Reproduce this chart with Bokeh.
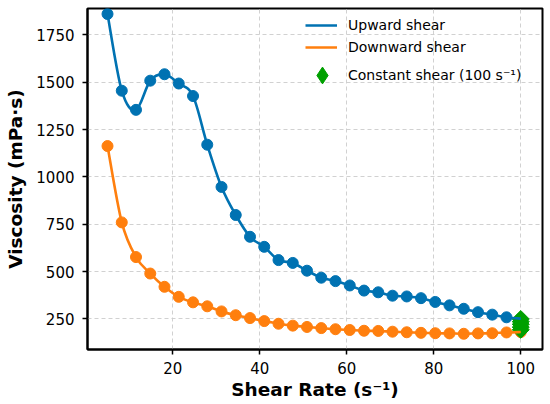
import numpy as np
from bokeh.plotting import figure
from bokeh.models import ColumnDataSource, Legend, LegendItem, FixedTicker, Range1d
from bokeh.embed import file_html
from bokeh.resources import INLINE

shear_rate = [5.0, 8.28, 11.55, 14.83, 18.10, 21.38, 24.66, 27.93, 31.21, 34.48,
              37.76, 41.03, 44.31, 47.59, 50.86, 54.14, 57.41, 60.69, 63.97, 67.24,
              70.52, 73.79, 77.07, 80.34, 83.62, 86.90, 90.17, 93.45, 96.72, 100.0]
upward = [1860, 1455, 1354, 1508, 1542, 1493, 1427, 1170, 947, 799,
          684, 631, 561, 546, 505, 468, 450, 427, 400, 391,
          373, 369, 360, 340, 322, 304, 286, 273, 259, 252]
downward = [1163, 760, 577, 490, 420, 367, 338, 317, 290, 270,
            255, 239, 225, 215, 208, 202, 196, 192, 188, 187,
            183, 180, 177, 175, 174, 172, 174, 175, 179, 181]
const_rate = [100, 100, 100, 100, 100]
const_visc = [250, 236, 222, 207, 193]

x_ticks = [20, 40, 60, 80, 100]
y_ticks = [250, 500, 750, 1000, 1250, 1500, 1750]

BLUE = "#0072B2"
ORANGE = "#FF7F0E"
GREEN = "#00A000"
FONT = "DejaVu Sans"

up_src = ColumnDataSource(dict(x=shear_rate, y=upward))
down_src = ColumnDataSource(dict(x=shear_rate, y=downward))
const_src = ColumnDataSource(dict(x=const_rate, y=const_visc))


def bezier_source(xs, ys):
    """Smooth (Catmull-Rom style) Bezier segments passing through every data point."""
    x = np.asarray(xs, float)
    y = np.asarray(ys, float)
    xp = np.concatenate([[x[0]], x, [x[-1]]])
    yp = np.concatenate([[y[0]], y, [y[-1]]])
    n = len(x)
    i = np.arange(n - 1)
    return ColumnDataSource(dict(
        x0=x[:-1], y0=y[:-1], x1=x[1:], y1=y[1:],
        cx0=x[i] + (xp[i + 2] - xp[i]) / 6.0,
        cy0=y[i] + (yp[i + 2] - yp[i]) / 6.0,
        cx1=x[i + 1] - (xp[i + 3] - xp[i + 1]) / 6.0,
        cy1=y[i + 1] - (yp[i + 3] - yp[i + 1]) / 6.0,
    ))


p = figure(width=550, height=404, output_backend="svg", toolbar_location=None,
           x_range=Range1d(0.4, 105.0), y_range=Range1d(89, 1889),
           min_border_left=87, min_border_right=8, min_border_top=8, min_border_bottom=55)

p.background_fill_color = "white"
p.border_fill_color = "white"
p.outline_line_color = "black"
p.outline_line_width = 2

# markers first
p.scatter("x", "y", source=up_src, size=11, color=BLUE)
p.scatter("x", "y", source=down_src, size=11, color=ORANGE)
p.scatter("x", "y", source=const_src, marker="square", angle=np.pi / 4,
          size=12, color=GREEN)
# zero-size diamonds: only their legend glyph is visible
r_const_lg = p.scatter("x", "y", source=const_src, marker="diamond", size=0, color=GREEN)

# smooth lines on top
r_up = p.bezier(x0="x0", y0="y0", x1="x1", y1="y1", cx0="cx0", cy0="cy0", cx1="cx1", cy1="cy1",
                source=bezier_source(shear_rate, upward), line_color=BLUE, line_width=2.6)
r_down = p.bezier(x0="x0", y0="y0", x1="x1", y1="y1", cx0="cx0", cy0="cy0", cx1="cx1", cy1="cy1",
                  source=bezier_source(shear_rate, downward), line_color=ORANGE, line_width=2.6)

for ax in (p.xaxis, p.yaxis):
    ax.axis_line_color = "black"
    ax.axis_line_width = 2
    ax.major_tick_line_width = 1.5
    ax.major_tick_out = 5
    ax.major_tick_in = 0
    ax.minor_tick_line_color = None
    ax.major_label_text_font = FONT
    ax.major_label_text_font_size = "15px"
    ax.major_label_text_color = "black"
    ax.axis_label_text_font = FONT
    ax.axis_label_text_font_size = "18.5px"
    ax.axis_label_text_font_style = "bold"
    ax.axis_label_text_color = "black"

p.xaxis.ticker = FixedTicker(ticks=x_ticks)
p.yaxis.ticker = FixedTicker(ticks=y_ticks)
p.xaxis.axis_label = "Shear Rate (s⁻¹)"
p.yaxis.axis_label = "Viscosity (mPa·s)"
p.xaxis.major_label_standoff = 7
p.xaxis.axis_label_standoff = 2
p.yaxis.major_label_standoff = 8
p.yaxis.axis_label_standoff = 7

p.grid.grid_line_color = "#cccccc"
p.grid.grid_line_dash = "4 3"
p.grid.grid_line_width = 1
p.grid.grid_line_alpha = 0.9


def style_legend(lg):
    lg.label_text_font = FONT
    lg.label_text_font_size = "14px"
    lg.label_text_color = "black"
    lg.border_line_color = None
    lg.background_fill_alpha = 0
    lg.padding = 0


legend_lines = Legend(items=[
    LegendItem(label="Upward shear", renderers=[r_up]),
    LegendItem(label="Downward shear", renderers=[r_down]),
], location="top_right")
style_legend(legend_lines)
legend_lines.glyph_width = 32
legend_lines.glyph_height = 20
legend_lines.label_height = 20
legend_lines.label_standoff = 11
legend_lines.label_width = 187
legend_lines.spacing = 2
legend_lines.margin = 7
p.add_layout(legend_lines)

legend_const = Legend(items=[
    LegendItem(label="Constant shear (100 s⁻¹)", renderers=[r_const_lg]),
], location=(214, 253))
style_legend(legend_const)
legend_const.glyph_width = 42
legend_const.glyph_height = 42
legend_const.label_height = 42
legend_const.label_standoff = 5
legend_const.margin = 0
p.add_layout(legend_const)

open("out.html", "w").write(file_html(p, INLINE))
